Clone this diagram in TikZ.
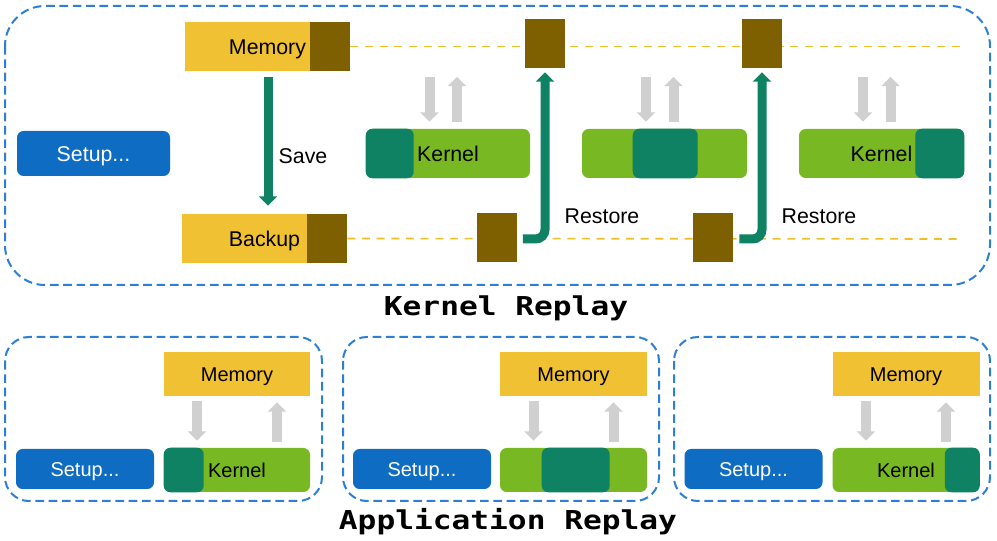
\documentclass[tikz,border=0pt]{standalone}
\usepackage{fontspec}
\setmainfont{Liberation Sans}
\newfontfamily\titlefont[FakeStretch=1.2]{DejaVu Sans Mono}
\usetikzlibrary{arrows.meta,calc}
\definecolor{frameblue}{RGB}{43,127,212}
\definecolor{setupblue}{RGB}{14,108,194}
\definecolor{memyellow}{RGB}{240,193,50}
\definecolor{membrown}{RGB}{127,96,0}
\definecolor{kgreen}{RGB}{120,184,34}
\definecolor{kdark}{RGB}{14,130,98}
\definecolor{arrgray}{RGB}{208,208,208}
\definecolor{lineyellow}{RGB}{242,190,40}
\newcommand{\pxl}{0.75pt}
\begin{document}
\begin{tikzpicture}[x=0.75pt,y=-0.75pt,
  frame/.style={draw=frameblue, line width=1.5pt, dash pattern=on 6.5pt off 3.5pt},
  memrect/.style={fill=memyellow, inner sep=0pt},
  brownsq/.style={fill=membrown, inner sep=0pt, minimum width=40*\pxl, minimum height=49*\pxl},
  setupbox/.style={fill=setupblue, rounded corners=5pt, inner sep=0pt},
  kbox/.style={fill=kgreen, rounded corners=5pt, inner sep=0pt},
  kdarkfill/.style={fill=kdark, rounded corners=5pt},
  lbl/.style={font=\fontsize{16}{19}\selectfont, inner sep=0pt, text height=11.5pt, text depth=0pt},
  slbl/.style={font=\fontsize{15}{18}\selectfont, inner sep=0pt, text height=10.7pt, text depth=0pt},
  title/.style={font=\titlefont\bfseries\fontsize{19.5}{22}\selectfont, inner sep=0pt, anchor=base},
  grayarrow/.style={draw=arrgray, line width=7.5pt, -{Triangle[width=13.5pt,length=7pt]}},
  greenarrow/.style={draw=kdark, line width=6.75pt, -{Triangle[width=13.5pt,length=7pt]}},
  memline/.style={draw=lineyellow, line width=1.2pt, dash pattern=on 6pt off 5pt}
]
\useasboundingbox (0,0) rectangle (997,541);

% ---------------- Kernel Replay ----------------
\draw[frame, rounded corners=30pt] (5,6) rectangle (990,285);

\node[memrect, minimum width=165*\pxl, minimum height=49*\pxl] (mem) at (267.5,46.5) {};
\node[memrect, minimum width=165*\pxl, minimum height=49*\pxl] (bak) at (264.5,238.5) {};
\coordinate (memend) at (963,46.5);
\coordinate (bakend) at (960,239);
\draw[memline] (mem.east) -- (memend);
\draw[memline] (bak.east) -- (bakend);

\fill[membrown] ($(mem.north east)+(-40,0)$) rectangle (mem.south east);
\fill[membrown] ($(bak.north east)+(-40,0)$) rectangle (bak.south east);
\node[lbl] (memt) at (mem) {Memory};
\node[lbl] (bakt) at (bak) {Backup};

\node[brownsq] (s1) at (545,43.5) {};
\node[brownsq] (s2) at (762,43.5) {};
\node[brownsq] (b1) at (496.5,238) {};
\node[brownsq] (b2) at (713,238) {};

\node[setupbox, minimum width=153*\pxl, minimum height=45*\pxl] (setup) at (93.5,153.5) {};
\node[lbl, text=white] (setupt) at (setup) {Setup...};

\node[kbox, minimum width=164*\pxl, minimum height=49*\pxl] (k1) at (448,153.5) {};
\node[kbox, minimum width=165*\pxl, minimum height=49*\pxl] (k2) at (664.5,153.5) {};
\node[kbox, minimum width=165*\pxl, minimum height=49*\pxl] (k3) at (881.5,153.5) {};
\fill[kdarkfill] (k1.north west) rectangle ($(k1.south west)+(48,0)$);
\fill[kdarkfill] ($(k2.north west)+(51,0)$) rectangle ($(k2.south west)+(116,0)$);
\fill[kdarkfill] ($(k3.north east)+(-49,0)$) rectangle (k3.south east);
\node[lbl] (k1t) at (k1) {Kernel};
\node[lbl] (k3t) at (k3) {Kernel};

\foreach \k in {k1,k2,k3}{
  \draw[grayarrow] ($(\k.north)+(-18.5,-52)$) -- ($(\k.north)+(-18.5,-7)$);
  \draw[grayarrow] ($(\k.north)+(9,-7)$) -- ($(\k.north)+(9,-52)$);
}

\draw[greenarrow] ($(mem.south)+(0.5,6)$) -- ($(bak.north)+(3.5,-8)$);
\node[lbl] (save) at (303,155.5) {Save};

\draw[greenarrow, rounded corners=7pt] ($(b1.east)+(6,1)$) -| ($(s1.south)+(0,4)$);
\draw[greenarrow, rounded corners=7pt] ($(b2.east)+(6,1)$) -| ($(s2.south)+(0,4)$);
\node[lbl] (r1) at (602,216) {Restore};
\node[lbl] (r2) at (819,216) {Restore};

\node[title] (kr) at (506,316) {Kernel Replay};

% ---------------- Application Replay ----------------
\draw[frame, rounded corners=18pt] (5,337) rectangle (322,501);
\draw[frame, rounded corners=18pt] (343,337) rectangle (659,501);
\draw[frame, rounded corners=18pt] (674,337) rectangle (990,501);

\node[setupbox, minimum width=138*\pxl, minimum height=40*\pxl] (as1) at (85,469) {};
\node[setupbox, minimum width=138*\pxl, minimum height=40*\pxl] (as2) at (422,469) {};
\node[setupbox, minimum width=138*\pxl, minimum height=40*\pxl] (as3) at (753.5,469) {};
\foreach \s in {as1,as2,as3}{
  \node[slbl, text=white] (\s t) at (\s) {Setup...};
}

\node[memrect, minimum width=146*\pxl, minimum height=44*\pxl] (am1) at (237,374) {};
\node[memrect, minimum width=147*\pxl, minimum height=44*\pxl] (am2) at (573.5,374) {};
\node[memrect, minimum width=147*\pxl, minimum height=44*\pxl] (am3) at (906,374) {};
\foreach \m in {am1,am2,am3}{
  \node[slbl] (\m t) at (\m) {Memory};
}

\node[kbox, minimum width=146*\pxl, minimum height=44*\pxl] (ak1) at (237,470) {};
\node[kbox, minimum width=147*\pxl, minimum height=44*\pxl] (ak2) at (573.5,470) {};
\node[kbox, minimum width=147*\pxl, minimum height=44*\pxl] (ak3) at (906,470) {};
\fill[kdarkfill] (ak1.north west) rectangle ($(ak1.south west)+(40,0)$);
\fill[kdarkfill] ($(ak2.north west)+(42,0)$) rectangle ($(ak2.south west)+(110,0)$);
\fill[kdarkfill] ($(ak3.north east)+(-35,0)$) rectangle (ak3.south east);
\node[slbl] (ak1t) at (ak1) {Kernel};
\node[slbl] (ak3t) at (ak3) {Kernel};

\foreach \i in {1,2,3}{
  \draw[grayarrow] ($(am\i.south)+(-40,5)$) -- ($(ak\i.north)+(-40,-7)$);
  \draw[grayarrow] ($(ak\i.north)+(40,-6)$) -- ($(am\i.south)+(40,6)$);
}

\node[title] (ar) at (508,530) {Application Replay};
\end{tikzpicture}
\end{document}
